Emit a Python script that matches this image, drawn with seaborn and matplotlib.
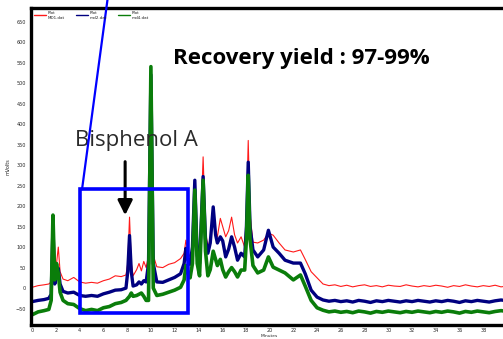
import numpy as np
import pandas as pd
import seaborn as sns
import matplotlib.pyplot as plt
from matplotlib.patches import Rectangle

# retention time (minutes) and detector signal (mV)
minutes = [0.0, 0.5, 1.0, 1.4, 1.6, 1.75, 1.9, 2.05, 2.2, 2.35, 2.6, 3.0, 3.5,
           4.0, 4.5, 5.0, 5.5, 6.0, 6.5, 7.0, 7.5, 7.9, 8.05, 8.2, 8.35, 8.5,
           8.8, 9.0, 9.2, 9.4, 9.6, 9.8, 10.0, 10.2, 10.5, 11.0, 11.5, 12.0,
           12.5, 12.8, 12.95, 13.1, 13.3, 13.5, 13.7, 13.9, 14.1, 14.4, 14.6,
           14.8, 15.0, 15.25, 15.45, 15.6, 15.85, 16.05, 16.3, 16.55, 16.8,
           17.05, 17.3, 17.6, 17.9, 18.05, 18.2, 18.35, 18.6, 19.0, 19.5, 19.9,
           20.3, 20.8, 21.3, 22.0, 22.6, 23.0, 23.5, 24.0, 24.5, 25.0, 25.5,
           26.0, 26.5, 27.0, 27.5, 28.0, 28.5, 29.0, 29.5, 30.0, 30.5, 31.0,
           31.5, 32.0, 32.5, 33.0, 33.5, 34.0, 34.5, 35.0, 35.5, 36.0, 36.5,
           37.0, 37.5, 38.0, 38.5, 39.0, 39.5, 40.0]

md1 = [2, 6, 8, 10, 15, 140, 30, 60, 100, 40, 22, 18, 26,
       15, 12, 14, 12, 18, 22, 30, 28, 32, 60, 173, 60, 30,
       45, 60, 42, 65, 50, 80, 500, 80, 52, 50, 58, 62,
       72, 85, 117, 90, 76, 95, 260, 100, 70, 320, 140,
       100, 120, 190, 140, 125, 170, 150, 125, 140, 173,
       130, 110, 125, 100, 180, 360, 180, 112, 110, 117, 134,
       129, 110, 93, 88, 93, 70, 40, 25, 10, 6, 8,
       4, 7, 3, 6, 8, 4, 6, 3, 7, 5,
       4, 8, 5, 3, 6, 4, 7, 5, 2, 6, 4, 8,
       5, 3, 6, 4, 7, 3, 5]

md2 = [-33, -30, -28, -25, -15, 150, 10, 30, 48, 10, -8, -12, -10,
       -18, -20, -18, -20, -14, -10, -5, -4, 0, 40, 128, 40, 5,
       8, 15, 10, 18, 15, 60, 520, 60, 15, 14, 20, 26,
       35, 60, 97, 70, 58, 100, 263, 80, 60, 272, 120,
       85, 110, 198, 130, 110, 125, 115, 76, 95, 125,
       100, 68, 85, 76, 150, 307, 150, 93, 76, 93, 141,
       100, 85, 68, 61, 61, 35, -5, -22, -29, -32, -30,
       -33, -31, -34, -30, -32, -35, -31, -33, -30, -32,
       -34, -31, -33, -30, -32, -34, -31, -33, -30, -32, -35, -31,
       -33, -30, -32, -34, -31, -29, -31]

md4 = [-65, -58, -55, -52, -30, 178, 20, 60, 35, -10, -30, -38, -40,
       -50, -55, -52, -55, -48, -45, -38, -35, -30, -25, -20, -12, -20,
       -18, -15, -12, -20, -30, -30, 540, 0, -18, -15, -10, -5,
       2, 20, 55, 40, 25, 60, 239, 60, 30, 263, 90,
       30, 45, 90, 70, 55, 70, 45, 27, 40, 50,
       40, 27, 44, 44, 120, 275, 120, 55, 37, 44, 76,
       51, 44, 37, 20, 32, 5, -30, -48, -54, -58, -56,
       -59, -57, -60, -56, -58, -61, -57, -59, -56, -58,
       -60, -57, -59, -56, -58, -60, -57, -59, -56, -58, -61, -57,
       -59, -56, -58, -60, -57, -55, -57]

series_names = ["Plot\nMD1.dat", "Plot\nmd2.dat", "Plot\nmd4.dat"]
series_colors = ["#ff1a1a", "#000080", "#0a7d0a"]
series_widths = [0.8, 2.4, 2.6]

sns.set_style("white")
plt.rcParams["font.family"] = ["DejaVu Sans"]

fig = plt.figure(figsize=(5.03, 3.39), dpi=100)
ax = fig.add_axes([31 / 503, 14 / 339, 476 / 503, 317 / 339])

for vals, name, col, lw in zip([md1, md2, md4], series_names, series_colors, series_widths):
    sns.lineplot(x=minutes, y=vals, ax=ax, color=col, linewidth=lw, label=name)

ax.set_xlim(-0.1, 40)
ax.set_ylim(-90, 683)
ax.set_xticks(np.arange(0, 39, 2))
ax.set_yticks(np.arange(-50, 651, 50))
ax.tick_params(axis="both", labelsize=3.5, length=1.5, width=0.5, pad=2)
ax.tick_params(axis="x", pad=1)
ax.set_xlabel("Minutes", fontsize=3.2)
ax.xaxis.set_label_coords(0.5, -0.029)
ax.set_ylabel("mVolts", fontsize=3.5, labelpad=4)
for side in ["left", "bottom", "top", "right"]:
    ax.spines[side].set_linewidth(2.4)
    ax.spines[side].set_color("black")

leg = ax.legend(loc="upper left", ncol=3, fontsize=3, frameon=False, handlelength=3,
                handletextpad=0.4, columnspacing=2.5, borderaxespad=0.3)
for line, col in zip(leg.get_lines(), series_colors):
    line.set_linewidth(1.0)
    line.set_color(col)

# zoom box around the Bisphenol A region and the call-out line
ax.add_patch(Rectangle((4.05, -61), 9.05, 302, fill=False, edgecolor="#0000ff", linewidth=2.6, zorder=5))
ax.plot([4.2, 6.7], [241, 780], color="#0000ff", linewidth=1.6, clip_on=False, zorder=5)

ax.annotate("", xy=(7.83, 171), xytext=(7.83, 315),
            arrowprops=dict(arrowstyle="-|>", color="black", lw=2.2, mutation_scale=22))
ax.text(8.8, 361, "Bisphenol A", fontsize=16, color="#2a2a2a", ha="center", va="center",
        family=["Open Sans", "DejaVu Sans"])
ax.text(22.7, 560, "Recovery yield : 97-99%", fontsize=16, fontweight="bold", color="black",
        ha="center", va="center", family=["Open Sans", "DejaVu Sans"])

fig.savefig("out.png", dpi=100)
